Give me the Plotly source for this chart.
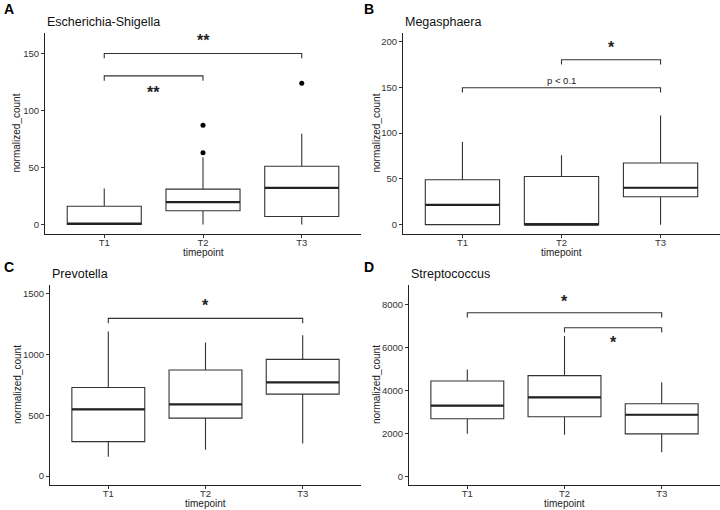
import plotly.graph_objects as go

categories = ["T1", "T2", "T3"]

# Panel A: Escherichia-Shigella
esch_lower = [0, 0, 0]
esch_q1 = [0, 12, 7]
esch_median = [0.7, 19.5, 32]
esch_q3 = [16, 31, 51]
esch_upper = [31.5, 59, 79.5]
esch_out_x = ["T2", "T2", "T3"]
esch_out_y = [63, 87, 124]

# Panel B: Megasphaera
mega_lower = [0, 0, 0]
mega_q1 = [0, 0, 30.4]
mega_median = [21.6, 0, 40.3]
mega_q3 = [49, 52.6, 67.3]
mega_upper = [90.3, 75.7, 119.2]

# Panel C: Prevotella
prev_lower = [159, 217, 267]
prev_q1 = [283, 476, 674]
prev_median = [548, 589, 770]
prev_q3 = [729, 872, 960]
prev_upper = [1189, 1098, 1159]

# Panel D: Streptococcus
strep_lower = [1979, 1933, 1121]
strep_q1 = [2680, 2773, 1979]
strep_median = [3287, 3675, 2867]
strep_q3 = [4436, 4688, 3380]
strep_upper = [4968, 6523, 4375]

# significance brackets: (group1, group2, bracket_y, label, label_y)
esch_sig = [("T1", "T3", 150, "**", 161), ("T1", "T2", 130.4, "**", 116)]
mega_sig = [("T2", "T3", 180, "*", 193), ("T1", "T3", 149.5, "p < 0.1", 157)]
prev_sig = [("T1", "T3", 1297, "*", 1405)]
strep_sig = [("T1", "T3", 7611, "*", 8120), ("T2", "T3", 6911, "*", 6230)]

titles = ["Escherichia-Shigella", "Megasphaera", "Prevotella", "Streptococcus"]
letters = ["A", "B", "C", "D"]
x_title = "timepoint"
y_title = "normalized_count"
y_ranges = [[-8.4, 168], [-10.2, 209.2], [-74, 1572], [-400, 8900]]
y_ticks = [[0, 50, 100, 150], [0, 50, 100, 150, 200],
           [0, 500, 1000, 1500], [0, 2000, 4000, 6000, 8000]]

W, H = 720, 510
# panel pixel boxes: left, right, top, bottom
panels_px = [(45, 361, 33, 234), (403, 720, 33, 234),
             (50, 361, 285, 485), (409, 720, 285, 485)]
letter_px = [(2, 9), (362, 9), (2, 267), (362, 267)]
ytitle_x_px = [16, 376, 17, 376]
xtitle_y_px = [252.5, 252.5, 503, 503]

data = [
    (esch_lower, esch_q1, esch_median, esch_q3, esch_upper, esch_sig),
    (mega_lower, mega_q1, mega_median, mega_q3, mega_upper, mega_sig),
    (prev_lower, prev_q1, prev_median, prev_q3, prev_upper, prev_sig),
    (strep_lower, strep_q1, strep_median, strep_q3, strep_upper, strep_sig),
]

FONT = "Liberation Sans, Arial, sans-serif"
fig = go.Figure()
shapes = []
annotations = []
layout = {}

for i, (lo, q1, med, q3, up, sig) in enumerate(data):
    n = "" if i == 0 else str(i + 1)
    xa, ya = "x" + n, "y" + n
    fig.add_trace(go.Box(
        x=categories, q1=q1, median=med, q3=q3, lowerfence=lo, upperfence=up,
        width=0.75, whiskerwidth=0, boxpoints=False,
        fillcolor="white", line=dict(color="#333333", width=1.1),
        xaxis=xa, yaxis=ya, showlegend=False, hoverinfo="skip",
    ))
    # thicker median line
    for k, m in enumerate(med):
        shapes.append(dict(type="line", xref=xa, yref=ya,
                           x0=k - 0.375, x1=k + 0.375, y0=m, y1=m,
                           line=dict(color="#222222", width=2.2)))
    if i == 0:
        fig.add_trace(go.Scatter(
            x=esch_out_x, y=esch_out_y, mode="markers",
            marker=dict(color="black", size=5), xaxis=xa, yaxis=ya,
            showlegend=False, hoverinfo="skip"))
    span = y_ranges[i][1] - y_ranges[i][0]
    tip = 0.024 * span
    for g1, g2, yb, lab, ly in sig:
        a, b = categories.index(g1), categories.index(g2)
        shapes.append(dict(type="path", xref=xa, yref=ya,
                           path=f"M {a},{yb - tip} L {a},{yb} L {b},{yb} L {b},{yb - tip}",
                           line=dict(color="#333333", width=1.1)))
        star = "*" in lab
        annotations.append(dict(xref=xa, yref=ya, x=(a + b) / 2, y=ly,
                                text=("<b>" + lab + "</b>") if star else lab,
                                showarrow=False,
                                font=dict(family=FONT, size=16 if star else 9.5,
                                          color="#222222")))
    l, r, t, bt = panels_px[i]
    layout["xaxis" + n] = dict(
        domain=[l / W, r / W], anchor=ya, type="category", automargin=False,
        range=[-0.6, 2.6], categoryorder="array", categoryarray=categories,
        showline=True, linecolor="#222222", linewidth=1.1,
        ticks="outside", ticklen=3, tickcolor="#333333", tickwidth=1,
        ticklabelstandoff=-3,
        tickfont=dict(family=FONT, size=9.5, color="#333333"),
        showgrid=False, zeroline=False,
    )
    layout["yaxis" + n] = dict(
        domain=[(H - bt) / H, (H - t) / H], anchor=xa, automargin=False,
        range=y_ranges[i], tickvals=y_ticks[i],
        showline=True, linecolor="#222222", linewidth=1.1,
        ticks="outside", ticklen=3, tickcolor="#333333", tickwidth=1,
        tickfont=dict(family=FONT, size=9.5, color="#333333"),
        showgrid=False, zeroline=False,
    )
    # axis titles
    annotations.append(dict(xref=xa, yref="paper", x=1, y=(H - xtitle_y_px[i]) / H,
                            xanchor="center", yanchor="middle", text=x_title,
                            showarrow=False,
                            font=dict(family=FONT, size=10, color="#222222")))
    annotations.append(dict(xref="paper", yref="paper", x=ytitle_x_px[i] / W,
                            y=(H - (t + bt) / 2) / H, textangle=-90,
                            xanchor="center", yanchor="middle", text=y_title,
                            showarrow=False,
                            font=dict(family=FONT, size=10, color="#222222")))
    annotations.append(dict(xref="paper", yref="paper", x=l / W, y=(H - t + 11) / H,
                            xanchor="left", yanchor="middle", text=titles[i],
                            showarrow=False,
                            font=dict(family=FONT, size=12.5, color="#111111")))
    lx, ly_ = letter_px[i]
    annotations.append(dict(xref="paper", yref="paper", x=lx / W, y=(H - ly_) / H,
                            xanchor="left", yanchor="middle", text="<b>" + letters[i] + "</b>",
                            showarrow=False,
                            font=dict(family=FONT, size=14, color="black")))

fig.update_layout(
    width=W, height=H, margin=dict(l=0, r=0, t=0, b=0),
    plot_bgcolor="white", paper_bgcolor="white",
    shapes=shapes, annotations=annotations, **layout,
)
fig.write_html("out.html", config={"displayModeBar": False},
               post_script="document.body.style.margin='0';document.body.style.padding='0';")
